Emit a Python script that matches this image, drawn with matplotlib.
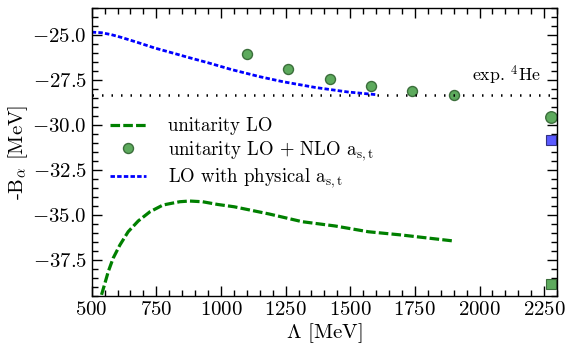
import matplotlib
matplotlib.use("Agg")
import matplotlib.pyplot as plt
import numpy as np

plt.rcParams["font.family"] = "serif"
plt.rcParams["font.serif"] = ["cmr10"]
plt.rcParams["mathtext.fontset"] = "cm"
plt.rcParams["axes.formatter.use_mathtext"] = True

# unitarity LO (green dashed)
lo_cut = [538, 551, 564, 583, 609, 641, 680, 725, 776, 840, 878, 929, 987, 1051,
          1186, 1314, 1442, 1570, 1698, 1897]
lo_b = [-39.44, -38.8, -38.15, -37.4, -36.67, -35.93, -35.33, -34.82, -34.44, -34.26,
        -34.22, -34.26, -34.41, -34.54, -34.94, -35.37, -35.61, -35.93, -36.11, -36.44]

# unitarity LO + NLO a_s,t (green points)
nlo_cut = [1100, 1260, 1420, 1580, 1740, 1900]
nlo_b = [-26.02, -26.85, -27.41, -27.79, -28.1, -28.33]

# LO with physical a_s,t (blue short dashes)
phys_cut = [500, 537, 576, 614, 679, 743, 808, 872, 949, 1040, 1150, 1240, 1365, 1490, 1600]
phys_b = [-24.82, -24.85, -24.96, -25.11, -25.4, -25.7, -25.96, -26.22, -26.52, -26.9,
          -27.3, -27.58, -27.9, -28.15, -28.3]

# extra points at the right edge
edge_cut = [2277]
edge_b = [-29.57]
sq_cut = [2277, 2277]
sq_b = [-30.83, -38.86]
sq_colors = ["#5a5aff", "#5daa5d"]
sq_edges = ["#333380", "#3b6e3b"]

exp_he4 = -28.3

fig = plt.figure(figsize=(5.65, 3.51), dpi=100)
ax = fig.add_axes([0.1623, 0.157, 0.8237, 0.819])

ax.plot(lo_cut, lo_b, color="#008000", linewidth=2.3, dashes=(3.0, 1.0), label="unitarity LO")
ax.plot(nlo_cut, nlo_b, "o", color="#5daa5d", markeredgecolor="#3b6e3b", markersize=7.2,
        markeredgewidth=1.0, label=r"unitarity LO + NLO a$_{\rm s,t}$")
ax.plot(phys_cut, phys_b, color="blue", linewidth=2.0, dashes=(1.6, 0.8), label=r"LO with physical a$_{\rm s,t}$")
ax.axhline(exp_he4, color="black", linewidth=1.8, dashes=(0.6, 3.2))
ax.plot(edge_cut, edge_b, "o", color="#5daa5d", markeredgecolor="#3b6e3b", markersize=8.3,
        markeredgewidth=1.0)
for x, y, c, e in zip(sq_cut, sq_b, sq_colors, sq_edges):
    ax.plot(x, y, "s", color=c, markeredgecolor=e, markersize=7.2, markeredgewidth=0.8)

ax.text(1971, exp_he4 + 0.42, r"exp. $^4$He", fontsize=12.8, ha="left", va="bottom")

ax.set_xlim(500, 2300)
ax.set_ylim(-39.5, -23.5)
ax.set_xticks([500, 750, 1000, 1250, 1500, 1750, 2000, 2250])
ax.set_yticks([-25.0, -27.5, -30.0, -32.5, -35.0, -37.5])
ax.set_yticklabels(["$-25.0$", "$-27.5$", "$-30.0$", "$-32.5$", "$-35.0$", "$-37.5$"])
ax.xaxis.set_minor_locator(matplotlib.ticker.MultipleLocator(50))
ax.yaxis.set_minor_locator(matplotlib.ticker.MultipleLocator(0.5))
ax.tick_params(which="both", direction="in", top=True, right=True, labelsize=15, width=1.0)
ax.tick_params(which="major", length=7)
ax.tick_params(which="minor", length=4)
for s in ax.spines.values():
    s.set_linewidth(1.0)

ax.set_xlabel(r"$\Lambda$ [MeV]", fontsize=15, labelpad=2)
ax.set_ylabel(r"-B$_\alpha$ [MeV]", fontsize=15, labelpad=2)

ax.legend(loc="upper left", bbox_to_anchor=(0.023, 0.648), frameon=False, fontsize=13.5,
          handlelength=1.9, handletextpad=1.2, labelspacing=0.2, borderaxespad=0)

fig.savefig("out.png", dpi=100)
